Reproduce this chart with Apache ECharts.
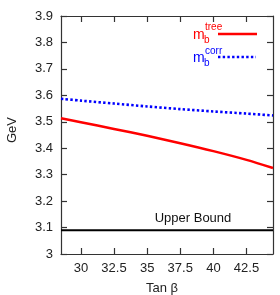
<!DOCTYPE html>
<html>
<head>
<meta charset="utf-8">
<script src="https://cdn.jsdelivr.net/npm/echarts@6/dist/echarts.min.js"></script>
<style>html,body{margin:0;padding:0;background:#fff;}#c{width:280px;height:295px;}</style>
</head>
<body>
<div id="c"></div>
<script>
var tanBeta = [28.5, 30, 32.5, 35, 37.5, 40, 42.5, 44.5];
var mbTree = [3.513, 3.498, 3.473, 3.447, 3.419, 3.389, 3.356, 3.325];
var mbCorr = [3.587, 3.580, 3.569, 3.558, 3.548, 3.539, 3.531, 3.524];
var boundX = [28.5, 44.5];
var boundY = [3.09, 3.09];
var xTicks = [30, 32.5, 35, 37.5, 40, 42.5];

function pairs(xs, ys) { return xs.map(function (x, i) { return [x, ys[i]]; }); }

var font = '"Liberation Sans", Arial, sans-serif';
var chart = echarts.init(document.getElementById('c'), null, { renderer: 'canvas' });
var axisLine = { show: true, lineStyle: { color: '#333', width: 1.2 } };
var tickStyle = { color: '#333', width: 1.2 };
chart.setOption({
  animation: false,
  backgroundColor: '#fff',
  grid: { left: 61, right: 7, top: 16, bottom: 41 },
  xAxis: [{
    type: 'value', min: 28.5, max: 44.5, position: 'bottom',
    axisLine: axisLine,
    axisTick: { show: true, inside: true, length: 6, lineStyle: tickStyle, customValues: xTicks },
    axisLabel: { show: true, margin: 8, fontSize: 13, color: '#222', fontFamily: font, customValues: xTicks },
    splitLine: { show: false }
  }, {
    type: 'value', min: 28.5, max: 44.5, position: 'top',
    axisLine: axisLine,
    axisTick: { show: true, inside: true, length: 6, lineStyle: tickStyle, customValues: xTicks },
    axisLabel: { show: false },
    splitLine: { show: false }
  }],
  yAxis: [{
    type: 'value', min: 3, max: 3.9, interval: 0.1, position: 'left',
    axisLine: axisLine,
    axisTick: { show: true, inside: true, length: 6, lineStyle: tickStyle },
    axisLabel: { show: true, margin: 8, fontSize: 13, color: '#222', fontFamily: font },
    splitLine: { show: false }
  }, {
    type: 'value', min: 3, max: 3.9, interval: 0.1, position: 'right',
    axisLine: axisLine,
    axisTick: { show: true, inside: true, length: 6, lineStyle: tickStyle },
    axisLabel: { show: false },
    splitLine: { show: false }
  }],
  series: [{
    type: 'line', name: 'tree', data: pairs(tanBeta, mbTree), showSymbol: false, smooth: 0.3,
    lineStyle: { color: '#ff0000', width: 2.5 }
  }, {
    type: 'line', name: 'corr', data: pairs(tanBeta, mbCorr), showSymbol: false, smooth: 0.3,
    lineStyle: { color: '#0000ff', width: 2.6, type: [2.4, 2.3], cap: 'butt' }
  }, {
    type: 'line', name: 'bound', data: pairs(boundX, boundY), showSymbol: false,
    lineStyle: { color: '#000', width: 2 }
  }],
  graphic: [
    { type: 'text', x: 12, y: 130, rotation: Math.PI / 2, style: { text: 'GeV', fontSize: 13, fontFamily: font, fill: '#222', align: 'center', verticalAlign: 'middle' } },
    { type: 'text', x: 162, y: 288, style: { text: 'Tan β', fontSize: 13, fontFamily: font, fill: '#222', align: 'center', verticalAlign: 'middle' } },
    { type: 'text', x: 193, y: 218, style: { text: 'Upper Bound', fontSize: 13, fontFamily: font, fill: '#111', align: 'center', verticalAlign: 'middle' } },
    { type: 'text', x: 193, y: 35, style: { text: 'm', fontSize: 14, fontFamily: font, fill: '#ff0000', align: 'left', verticalAlign: 'middle' } },
    { type: 'text', x: 204, y: 40, style: { text: 'b', fontSize: 10, fontFamily: font, fill: '#ff0000', align: 'left', verticalAlign: 'middle' } },
    { type: 'text', x: 205, y: 27, style: { text: 'tree', fontSize: 10, fontFamily: font, fill: '#ff0000', align: 'left', verticalAlign: 'middle' } },
    { type: 'line', shape: { x1: 218, y1: 34, x2: 257, y2: 34 }, style: { stroke: '#ff0000', lineWidth: 2.5 } },
    { type: 'text', x: 193, y: 58, style: { text: 'm', fontSize: 14, fontFamily: font, fill: '#0000ff', align: 'left', verticalAlign: 'middle' } },
    { type: 'text', x: 204, y: 63, style: { text: 'b', fontSize: 10, fontFamily: font, fill: '#0000ff', align: 'left', verticalAlign: 'middle' } },
    { type: 'text', x: 205, y: 51, style: { text: 'corr', fontSize: 10, fontFamily: font, fill: '#0000ff', align: 'left', verticalAlign: 'middle' } },
    { type: 'line', shape: { x1: 218, y1: 57, x2: 256, y2: 57 }, style: { stroke: '#0000ff', lineWidth: 2.6, lineDash: [2.4, 2.3], lineCap: 'butt' } }
  ]
});
</script>
</body>
</html>
